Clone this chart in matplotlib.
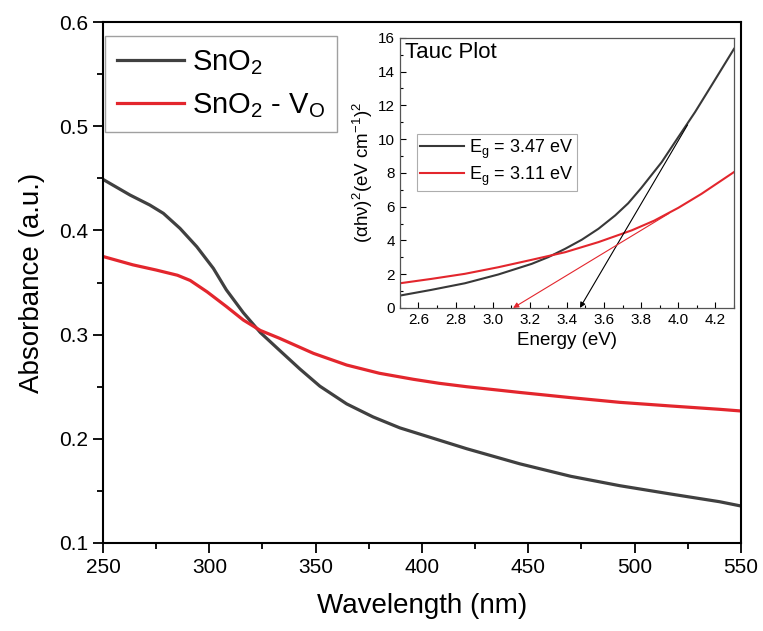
import numpy as np
import matplotlib.pyplot as plt
from matplotlib.ticker import MultipleLocator

plt.rcParams['font.family'] = ['Liberation Sans', 'DejaVu Sans']
plt.rcParams['mathtext.fontset'] = 'custom'
plt.rcParams['mathtext.rm'] = 'Liberation Sans'
plt.rcParams['mathtext.it'] = 'Liberation Sans'

# main absorbance spectra
wl = [250, 262.7, 272, 278.4, 286.2, 294.1, 301.9, 308, 316, 324, 333, 342.6, 352,
      364.6, 377, 389.6, 405.3, 421, 446, 470, 493, 517, 540, 550]
abs_sno2 = [0.449, 0.434, 0.4244, 0.4164, 0.402, 0.3844, 0.3636, 0.343, 0.321, 0.302,
            0.285, 0.267, 0.2505, 0.2335, 0.221, 0.2105, 0.2005, 0.1905, 0.176, 0.164,
            0.155, 0.147, 0.1396, 0.1355]
wl_r = [250, 264, 275, 285, 291, 299, 308, 316, 324, 333, 349, 364.6, 380, 396, 408,
        421, 437, 446, 470, 493, 517, 540, 550]
abs_vo = [0.375, 0.367, 0.362, 0.357, 0.352, 0.341, 0.327, 0.314, 0.304, 0.2965,
          0.282, 0.2708, 0.2629, 0.2571, 0.2533, 0.250, 0.2465, 0.2445, 0.2395, 0.235,
          0.2315, 0.2283, 0.2267]

# Tauc plot data
energy = [2.50, 2.67, 2.85, 3.03, 3.21, 3.30, 3.39, 3.48, 3.57, 3.66, 3.73, 3.80,
          3.91, 4.00, 4.09, 4.18, 4.30]
tauc_sno2 = [0.73, 1.07, 1.46, 1.98, 2.61, 3.01, 3.5, 4.04, 4.69, 5.48, 6.2, 7.1,
             8.63, 10.12, 11.6, 13.2, 15.35]
energy_r = [2.50, 2.67, 2.85, 3.03, 3.21, 3.39, 3.57, 3.75, 3.87, 4.00, 4.125, 4.30]
tauc_vo = [1.46, 1.72, 2.02, 2.41, 2.85, 3.3, 3.9, 4.6, 5.17, 5.93, 6.76, 8.05]
eg_sno2 = 3.47
eg_vo = 3.11
fit_top_sno2 = (4.05, 10.85)
fit_top_vo = (3.95, 5.6)

gray = '#404040'
red = '#e3262d'

fig = plt.figure(figsize=(7.63, 6.31), dpi=100)
ax = fig.add_axes([0.135, 0.1395, 0.836, 0.8255])
ax.plot(wl, abs_sno2, color=gray, lw=2.3, solid_joinstyle='round', label='SnO$_2$')
ax.plot(wl_r, abs_vo, color=red, lw=2.3, solid_joinstyle='round',
        label='SnO$_2$ - V$_\\mathrm{O}$')
ax.set_xlim(250, 550)
ax.set_ylim(0.1, 0.6)
ax.xaxis.set_major_locator(MultipleLocator(50))
ax.xaxis.set_minor_locator(MultipleLocator(25))
ax.yaxis.set_major_locator(MultipleLocator(0.1))
ax.yaxis.set_minor_locator(MultipleLocator(0.05))
ax.tick_params(which='both', direction='out', top=False, right=False, labelsize=15, width=1.3)
ax.tick_params(which='major', length=7)
ax.tick_params(which='minor', length=4)
for s in ax.spines.values():
    s.set_linewidth(1.5)
ax.set_xlabel('Wavelength (nm)', fontsize=20, labelpad=12)
ax.set_ylabel('Absorbance (a.u.)', fontsize=20, labelpad=10)
leg = ax.legend(loc='upper left', bbox_to_anchor=(0.003, 0.973), fontsize=21, handlelength=2.3,
                fancybox=False, edgecolor='#888888', borderpad=0.4, labelspacing=0.5,
                handletextpad=0.3, borderaxespad=0.0)
leg.get_frame().set_linewidth(1.0)

# inset Tauc plot
ins = fig.add_axes([0.524, 0.512, 0.438, 0.428])
ins.plot(energy, tauc_sno2, color='#383838', lw=1.5, label='E$_\\mathrm{g}$ = 3.47 eV')
ins.plot(energy_r, tauc_vo, color=red, lw=1.5, label='E$_\\mathrm{g}$ = 3.11 eV')
ins.annotate('', xy=(eg_sno2, 0), xytext=fit_top_sno2,
             arrowprops=dict(arrowstyle='-|>', color='black', lw=0.8, mutation_scale=8,
                             shrinkA=0, shrinkB=0))
ins.annotate('', xy=(eg_vo, 0), xytext=fit_top_vo,
             arrowprops=dict(arrowstyle='-|>', color=red, lw=0.8, mutation_scale=8,
                             shrinkA=0, shrinkB=0))
ins.set_xlim(2.5, 4.3)
ins.set_ylim(0, 16)
ins.xaxis.set_minor_locator(MultipleLocator(0.1))
ins.yaxis.set_major_locator(MultipleLocator(2))
ins.yaxis.set_minor_locator(MultipleLocator(1))
ins.set_xticks(np.arange(2.6, 4.21, 0.2))
ins.set_xticklabels(['%.1f' % v for v in np.arange(2.6, 4.21, 0.2)])
ins.tick_params(which='both', direction='in', top=False, right=False, labelsize=11, width=0.8)
ins.tick_params(which='major', length=4)
ins.tick_params(which='minor', length=2)
for s in ins.spines.values():
    s.set_linewidth(0.9)
    s.set_color('#555555')
ins.set_xlabel('Energy (eV)', fontsize=13.5, labelpad=4)
ins.set_ylabel('$(\\mathrm{\\alpha h\\nu})^2$(eV cm$^{-1}$)$^2$', fontsize=13.5, labelpad=2)
ins.text(0.015, 0.985, 'Tauc Plot', transform=ins.transAxes, fontsize=16, va='top', ha='left')
ileg = ins.legend(loc='upper left', bbox_to_anchor=(0.051, 0.644), fontsize=13, handlelength=2.4,
                  fancybox=False, edgecolor='#999999', borderpad=0.2, labelspacing=0.2,
                  handletextpad=0.3, borderaxespad=0.0)
ileg.get_frame().set_linewidth(0.8)

fig.savefig('out.png', dpi=100)
